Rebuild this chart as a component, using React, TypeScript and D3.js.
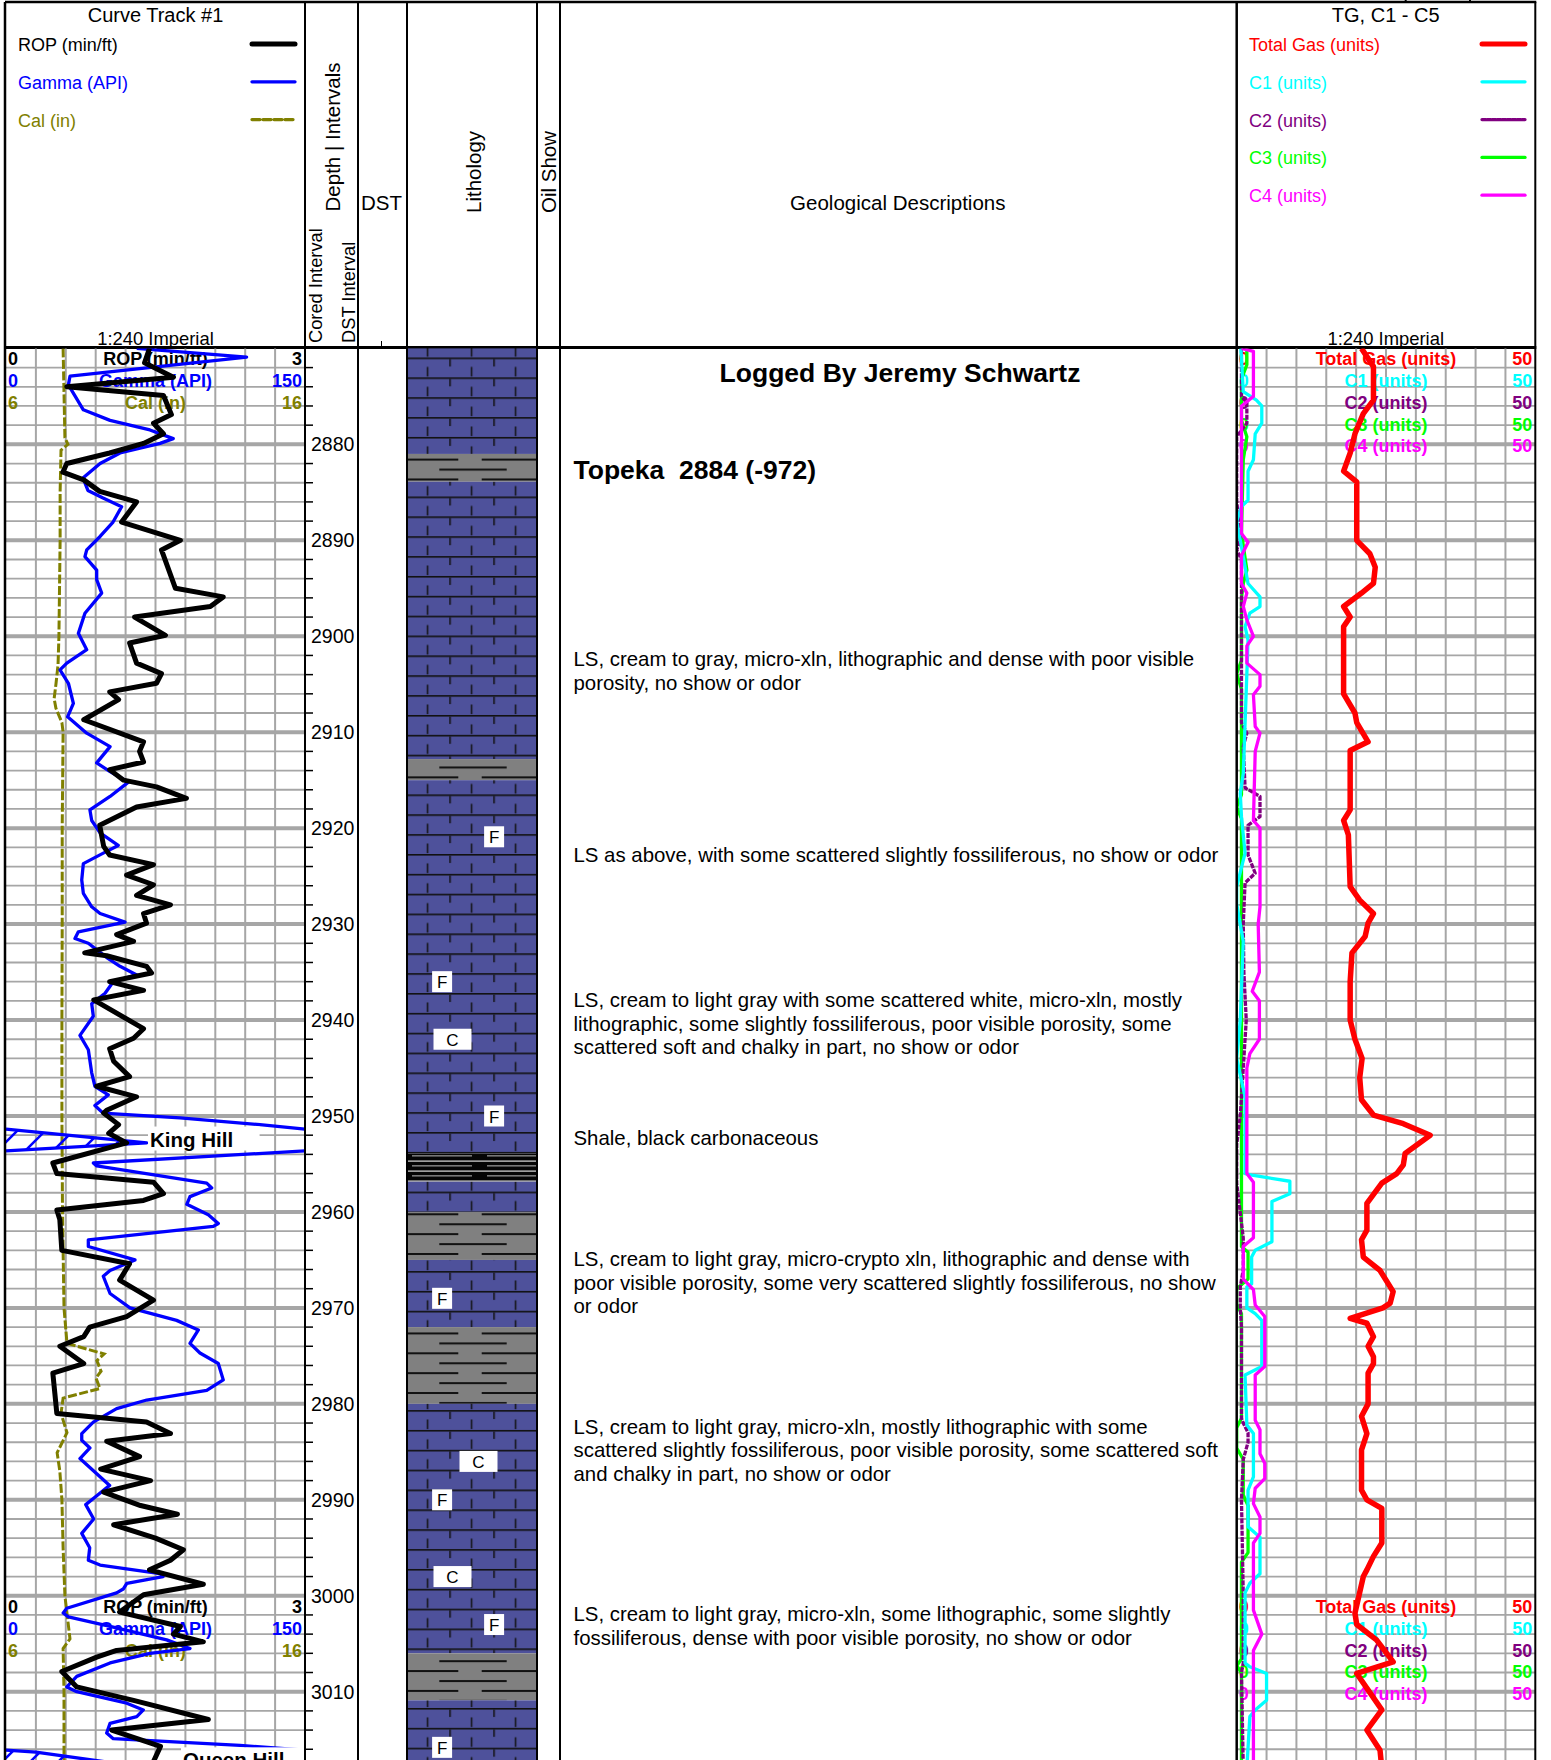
import React from "react";
import * as d3 from "d3";

const FONT = "'Liberation Sans', Arial, Helvetica, sans-serif";

// ---------------- DATA ----------------
const DEPTH_DOMAIN = [2870, 3018];
const DEPTH_LABELS = [2880, 2890, 2900, 2910, 2920, 2930, 2940, 2950, 2960, 2970, 2980, 2990, 3000, 3010];

// [depth ft, ROP min/ft]
const ROP = [
  [2870.0, 1.44], [2871.5, 1.39], [2873.0, 1.68], [2874.0, 0.61], [2874.9, 1.58], [2876.9, 1.66], [2877.8, 1.48],
  [2878.9, 1.58], [2879.9, 1.38], [2880.9, 1.04], [2882.0, 0.61], [2882.9, 0.57], [2883.7, 0.78], [2884.9, 0.94],
  [2886.0, 1.31], [2888.1, 1.16], [2890.0, 1.75], [2891.0, 1.56], [2895.0, 1.70], [2895.9, 2.18], [2896.9, 2.05],
  [2898.0, 1.29], [2899.9, 1.60], [2900.7, 1.24], [2902.8, 1.31], [2903.9, 1.56], [2904.9, 1.51], [2905.8, 1.04],
  [2906.6, 1.13], [2908.7, 0.78], [2911.0, 1.38], [2912.0, 1.34], [2913.1, 1.38], [2913.9, 1.04], [2915.0, 1.18],
  [2915.7, 1.51], [2916.9, 1.81], [2917.8, 1.31], [2919.7, 0.94], [2921.9, 0.98], [2922.8, 1.04], [2923.8, 1.48],
  [2924.9, 1.21], [2925.9, 1.48], [2927.0, 1.31], [2928.0, 1.65], [2928.9, 1.38], [2929.9, 1.41], [2931.1, 1.11],
  [2931.8, 1.28], [2933.0, 0.79], [2933.3, 1.01], [2934.4, 1.41], [2935.1, 1.46], [2936.0, 1.04], [2936.9, 1.38],
  [2937.9, 0.88], [2940.9, 1.38], [2941.9, 1.28], [2943.0, 1.04], [2944.3, 1.08], [2945.9, 1.24], [2946.9, 0.91],
  [2948.0, 1.31], [2949.4, 1.01], [2949.7, 0.98], [2950.9, 1.13], [2951.8, 1.03], [2952.8, 1.21], [2954.9, 0.47],
  [2956.0, 0.51], [2956.9, 1.48], [2958.1, 1.58], [2958.8, 1.38], [2959.8, 0.51], [2960.8, 0.54], [2964.0, 0.56],
  [2965.4, 1.24], [2967.1, 1.14], [2969.2, 1.48], [2970.9, 1.21], [2972.0, 0.84], [2973.0, 0.78], [2974.0, 0.54],
  [2975.8, 0.78], [2976.8, 0.47], [2978.9, 0.49], [2981.0, 0.51], [2981.9, 1.41], [2983.1, 1.65], [2983.9, 1.01],
  [2985.5, 1.34], [2986.8, 0.95], [2988.0, 1.45], [2989.2, 0.98], [2990.6, 1.35], [2991.5, 1.72], [2992.6, 1.08],
  [2994.0, 1.50], [2995.2, 1.78], [2996.3, 1.65], [2997.3, 1.44], [2998.8, 1.98], [2999.9, 1.38], [3001.7, 1.14],
  [3003.2, 1.75], [3004.0, 1.68], [3004.8, 1.98], [3005.7, 1.11], [3006.4, 0.91], [3007.9, 0.56], [3009.5, 0.71],
  [3010.9, 1.28], [3012.9, 2.03], [3014.0, 1.06], [3015.7, 1.55], [3017.5, 1.47],
];

// [depth ft, Gamma API]
const GAMMA = [
  [2870.0, 65.6], [2870.9, 120.7], [2872.9, 32.1], [2873.8, 31.3], [2876.4, 38.8], [2877.5, 52.2], [2878.5, 72.2],
  [2879.4, 83.9], [2879.9, 77.3], [2880.9, 57.2], [2882.0, 47.2], [2883.5, 38.6], [2884.8, 41.1], [2885.6, 48.7],
  [2886.5, 58.0], [2888.1, 53.7], [2889.6, 47.2], [2891.0, 40.5], [2891.7, 39.6], [2893.1, 45.5], [2894.1, 45.5],
  [2895.5, 48.0], [2897.6, 39.6], [2899.7, 36.3], [2901.4, 40.5], [2902.8, 30.5], [2903.5, 27.1], [2904.9, 31.3],
  [2907.0, 33.8], [2908.4, 30.9], [2910.1, 40.5], [2911.5, 52.2], [2913.2, 45.5], [2914.1, 52.2], [2915.2, 61.4],
  [2916.7, 52.2], [2918.1, 42.1], [2919.2, 43.0], [2920.5, 47.2], [2921.8, 56.3], [2922.6, 48.8], [2923.7, 38.8],
  [2925.4, 38.0], [2926.8, 38.8], [2928.2, 43.0], [2928.9, 47.2], [2929.8, 59.7], [2930.8, 36.3], [2931.5, 34.6],
  [2932.0, 41.3], [2933.6, 51.3], [2934.4, 57.2], [2935.3, 65.6], [2936.0, 53.8], [2937.2, 49.7], [2938.3, 43.0],
  [2939.6, 43.8], [2941.6, 37.1], [2943.1, 41.3], [2945.5, 43.0], [2946.9, 44.6], [2947.8, 51.3], [2948.9, 44.6],
  [2949.7, 48.7], [2950.2, 87.3], [2950.9, 127.4], [2952.8, 220.6], [2954.9, 43.8], [2955.2, 45.5], [2957.0, 100.7],
  [2957.5, 103.2], [2958.4, 92.3], [2959.2, 90.7], [2960.3, 101.5], [2961.2, 106.5], [2961.5, 104.0], [2962.9, 41.3],
  [2963.6, 41.3], [2965.0, 64.7], [2966.1, 52.2], [2966.7, 48.8], [2968.5, 52.2], [2970.0, 62.2], [2971.3, 85.6],
  [2972.3, 96.5], [2973.7, 92.3], [2974.7, 97.3], [2975.8, 106.5], [2977.5, 109.0], [2978.6, 100.7], [2979.6, 70.6],
  [2980.5, 55.5], [2981.9, 43.8], [2983.1, 38.0], [2983.8, 38.0], [2984.6, 42.1], [2985.7, 37.1], [2987.0, 44.0],
  [2988.5, 52.0], [2989.5, 46.0], [2990.5, 40.0], [2992.0, 44.0], [2993.5, 38.0], [2995.0, 42.0], [2996.3, 41.3],
  [2996.8, 47.2], [2997.7, 77.3], [2998.0, 78.8], [2998.7, 60.6], [2999.3, 58.8], [2999.7, 55.5], [3001.3, 30.5],
  [3001.8, 28.7], [3002.2, 31.3], [3003.2, 52.2], [3004.6, 80.6], [3005.5, 92.3], [3006.0, 72.2], [3007.0, 52.2],
  [3008.4, 35.5], [3009.5, 30.5], [3010.0, 35.5], [3011.2, 60.6], [3011.9, 68.9], [3012.6, 65.6], [3013.3, 52.2],
  [3014.3, 50.5], [3014.9, 53.8], [3015.6, 117.4], [3016.3, 165.0], [3017.6, 210.0],
];

// [depth ft, caliper in]
const CAL = [
  [2870, 7.91], [2879.3, 7.97], [2880, 8.07], [2880.6, 7.84], [2885, 7.81], [2890, 7.81], [2895, 7.79], [2900, 7.77],
  [2903, 7.74], [2905, 7.67], [2906.5, 7.61], [2907.5, 7.67], [2909, 7.87], [2910, 7.91], [2920, 7.88], [2930, 7.88],
  [2940, 7.87], [2950, 7.87], [2960, 7.89], [2970, 7.94], [2973.7, 8.04], [2974.8, 9.28], [2975.5, 9.04],
  [2976.6, 9.18], [2977.3, 9.01], [2978.4, 9.14], [2979.4, 7.91], [2981, 7.84], [2983, 8.04], [2985.1, 7.71],
  [2987, 7.80], [2990, 7.87], [2995, 7.91], [3000, 7.97], [3004.5, 8.14], [3005.5, 7.91], [3010, 7.94], [3018, 7.94],
];

// gas curves [depth ft, units]
const TOTAL_GAS = [
  [2870, 20.9], [2871.9, 22.9], [2875.4, 22.9], [2876.8, 21.2], [2878.9, 19.8], [2880.9, 19.0], [2882.8, 17.9],
  [2883.9, 20.1], [2890, 20.1], [2891.4, 22.3], [2892.8, 23.2], [2894.5, 22.9], [2895.5, 20.9], [2896.9, 17.9],
  [2898, 19.0], [2899, 17.9], [2906, 17.9], [2908, 19.8], [2909, 20.1], [2911, 22.0], [2911.9, 19.0], [2918.1, 19.0],
  [2919.2, 17.9], [2920.7, 18.7], [2926.1, 19.0], [2927.5, 20.6], [2928.9, 22.9], [2929.9, 22.0], [2931.3, 21.5],
  [2933, 19.3], [2936, 19.0], [2940, 19.0], [2942, 19.8], [2944, 21.0], [2946, 20.6], [2948.3, 20.9], [2949.9, 22.9],
  [2950.8, 27.9], [2952, 32.4], [2953.9, 28.2], [2955.1, 27.9], [2956, 26.8], [2957, 24.3], [2959.1, 21.8],
  [2961.9, 21.8], [2962.9, 20.9], [2964.7, 21.2], [2966.1, 24.0], [2968.3, 26.2], [2969.5, 25.7], [2970, 24.5],
  [2971.1, 19.0], [2971.6, 21.8], [2973, 22.9], [2974, 22.0], [2975.1, 22.9], [2975.8, 22.9], [2976.8, 22.0],
  [2980, 22.0], [2981.3, 20.9], [2983.1, 21.8], [2984.8, 20.9], [2989, 20.9], [2990, 21.8], [2990.9, 24.3],
  [2994.5, 24.3], [2995.9, 22.9], [2997.3, 21.8], [2998, 21.2], [3001.8, 19.8], [3003, 20.1], [3004.6, 23.4],
  [3006.9, 26.2], [3008.1, 20.1], [3011.9, 24.3], [3014, 21.8], [3016.1, 24.0], [3018, 24.3],
];
const C1 = [
  [2870, 0.7], [2874.5, 1.1], [2875.4, 3.3], [2876, 4.2], [2877.8, 4.2], [2878.9, 3.1], [2881.6, 2.8], [2882.8, 1.9],
  [2885.8, 1.9], [2886.5, 0.8], [2888, 0.0], [2890, 0.6], [2894.5, 1.9], [2895.9, 3.9], [2896.9, 3.9], [2897.6, 2.2],
  [2899, 1.4], [2900.4, 1.9], [2914.3, 1.1], [2916.4, 0.6], [2918.8, 0.8], [2922.6, 1.4], [2926.1, 0.0],
  [2927.9, 0.0], [2931.8, 1.1], [2940, 0.6], [2944, 0.0], [2948, 1.4], [2956, 1.4], [2956.2, 2.8], [2956.8, 8.9],
  [2958.1, 8.9], [2958.9, 5.9], [2963.1, 5.9], [2964, 3.1], [2964.7, 2.5], [2967.5, 2.5], [2967.8, 1.7], [2970, 1.7],
  [2970.6, 3.1], [2971.3, 4.2], [2976.1, 4.2], [2977, 1.4], [2982.2, 1.7], [2983.1, 2.8], [2987.6, 2.8],
  [2989, 1.9], [2992.8, 1.9], [2993.9, 3.9], [2997.7, 3.9], [2998.7, 2.2], [2999.7, 1.4], [3007, 1.4], [3007.4, 2.2],
  [3008.1, 5.0], [3010.9, 5.0], [3011.9, 3.1], [3012.6, 2.2], [3018, 1.7],
];
const C2 = [
  [2870, 0.8], [2875, 0.8], [2875.7, 1.7], [2877.8, 1.7], [2879.2, 0.0], [2885.8, 0.0], [2890, 0.6], [2891, 0.0],
  [2892, 0.8], [2909, 0.8], [2910.1, 1.7], [2911.5, 1.1], [2915.8, 1.4], [2916.7, 3.9], [2918.8, 3.9], [2919.7, 1.9],
  [2922.8, 1.9], [2924.7, 3.1], [2925.7, 1.4], [2930, 1.1], [2935, 1.2], [2940, 1.6], [2944, 1.2], [2950, 0.6],
  [2953, 0.0], [2957, 0.0], [2962.7, 1.1], [2966, 1.1], [2967.8, 0.6], [2970, 0.6], [2972, 0.8], [2981.5, 0.8],
  [2982, 1.1], [2983, 1.9], [2984, 1.9], [2985.8, 1.1], [2990, 0.8], [3000, 1.1], [3007, 1.1], [3008, 0.8],
  [3018, 1.1],
];
const C3 = [
  [2870, 1.7], [2871.7, 1.7], [2873.2, 0.8], [2877.5, 0.8], [2879.2, 1.7], [2881.6, 1.1], [2889.3, 0.8],
  [2893.1, 1.7], [2894.5, 1.1], [2896, 0.8], [2902.5, 0.8], [2903.9, 0.0], [2905.5, 0.8], [2916.5, 0.8],
  [2917.8, 0.0], [2919, 0.8], [2963.6, 0.8], [2964.2, 1.9], [2967, 1.9], [2968, 0.0], [2969.6, 0.0], [2970.6, 0.8],
  [2981.5, 0.8], [2982.5, 0.0], [2984.6, 0.0], [2985.8, 1.1], [2989.5, 1.1], [2990.6, 1.9], [2995.5, 1.9],
  [2996.5, 0.8], [3006.6, 0.8], [3007.3, 0.0], [3008, 0.8], [3018, 0.8],
];
const C4 = [
  [2870, 0.8], [2870.3, 2.8], [2875, 2.8], [2876, 0.8], [2889.3, 0.8], [2890.2, 1.9], [2891.6, 0.8], [2894.5, 0.8],
  [2895.5, 1.7], [2896.9, 1.1], [2898.3, 1.7], [2900, 2.8], [2901, 1.7], [2902.8, 1.7], [2904, 3.9], [2905.2, 3.9],
  [2906.1, 2.8], [2909.4, 3.1], [2910.1, 3.9], [2912, 3.1], [2919.2, 2.8], [2920, 3.9], [2928.2, 3.9], [2930, 3.6],
  [2935, 3.8], [2937, 2.6], [2938, 3.8], [2942, 3.8], [2943.5, 2.2], [2945, 1.7], [2956, 1.7], [2956.9, 2.8],
  [2962.7, 2.8], [2963.6, 1.1], [2967, 1.1], [2968.1, 2.8], [2969.7, 3.1], [2970.9, 4.7], [2976.1, 4.7], [2977, 3.1],
  [2981.7, 3.1], [2982.7, 3.9], [2985.2, 3.9], [2986.2, 4.7], [2987.8, 4.7], [2988.8, 3.1], [2990.4, 2.8],
  [2991.8, 3.9], [2993.5, 3.9], [2994.5, 2.8], [3001.5, 2.8], [3004, 4.2], [3005.7, 2.8], [3018, 2.8],
];

// lithology intervals
const LITHOLOGY = [
  { top: 2870.0, base: 2881.0, rock: "limestone" },
  { top: 2881.0, base: 2883.9, rock: "shale" },
  { top: 2883.9, base: 2912.8, rock: "limestone" },
  { top: 2912.8, base: 2915.0, rock: "shale" },
  { top: 2915.0, base: 2953.9, rock: "limestone" },
  { top: 2953.9, base: 2956.85, rock: "blackshale" },
  { top: 2956.85, base: 2960.0, rock: "limestone" },
  { top: 2960.0, base: 2965.0, rock: "shale" },
  { top: 2965.0, base: 2972.0, rock: "limestone" },
  { top: 2972.0, base: 2980.0, rock: "shale" },
  { top: 2980.0, base: 3006.0, rock: "limestone" },
  { top: 3006.0, base: 3010.9, rock: "shale" },
  { top: 3010.9, base: 3018.0, rock: "limestone" },
];

// accessory symbols (F = fossils, C = chalk); lane = horizontal position across lithology column
const ACCESSORIES = [
  { depth: 2920.9, sym: "F", lane: 0.67 },
  { depth: 2936.0, sym: "F", lane: 0.27 },
  { depth: 2942.0, sym: "C", lane: 0.35 },
  { depth: 2950.0, sym: "F", lane: 0.67 },
  { depth: 2969.0, sym: "F", lane: 0.27 },
  { depth: 2986.0, sym: "C", lane: 0.55 },
  { depth: 2990.0, sym: "F", lane: 0.27 },
  { depth: 2998.0, sym: "C", lane: 0.35 },
  { depth: 3003.0, sym: "F", lane: 0.67 },
  { depth: 3015.8, sym: "F", lane: 0.27 },
];

const FORMATION_TOPS = [
  { name: "King Hill", depth: 2952.4 },
  { name: "Queen Hill", depth: 3017.1 },
];

const DESCRIPTIONS = [
  { depth: 2902.4, lines: ["LS, cream to gray, micro-xln, lithographic and dense with poor visible", "porosity, no show or odor"] },
  { depth: 2922.8, lines: ["LS as above, with some scattered slightly fossiliferous, no show or odor"] },
  { depth: 2937.9, lines: ["LS, cream to light gray with some scattered white, micro-xln, mostly", "lithographic, some slightly fossiliferous, poor visible porosity, some", "scattered soft and chalky in part, no show or odor"] },
  { depth: 2952.3, lines: ["Shale, black carbonaceous"] },
  { depth: 2964.9, lines: ["LS, cream to light gray, micro-crypto xln, lithographic and dense with", "poor visible porosity, some very scattered slightly fossiliferous, no show", "or odor"] },
  { depth: 2982.4, lines: ["LS, cream to light gray, micro-xln, mostly lithographic with some", "scattered slightly fossiliferous, poor visible porosity, some scattered soft", "and chalky in part, no show or odor"] },
  { depth: 3001.9, lines: ["LS, cream to light gray, micro-xln, some lithographic, some slightly", "fossiliferous, dense with poor visible porosity, no show or odor"] },
];
const HEADINGS = [
  { depth: 2872.6, text: "Logged By Jeremy Schwartz", centered: true },
  { depth: 2882.7, text: "Topeka  2884 (-972)", centered: false },
];

const CURVE_SCALES = [
  { name: "ROP (min/ft)", min: "0", max: "3", color: "#000000" },
  { name: "Gamma (API)", min: "0", max: "150", color: "#0000ff" },
  { name: "Cal (in)", min: "6", max: "16", color: "#808000" },
];
const GAS_SCALES = [
  { name: "Total Gas (units)", min: "0", max: "50", color: "#ff0000" },
  { name: "C1 (units)", min: "0", max: "50", color: "#00ffff" },
  { name: "C2 (units)", min: "0", max: "50", color: "#800080" },
  { name: "C3 (units)", min: "0", max: "50", color: "#00ff00" },
  { name: "C4 (units)", min: "0", max: "50", color: "#ff00ff" },
];
const SCALE_LABEL_DEPTHS = [2871.15, 3001.2];

// ---------------- LAYOUT ----------------
const W = 1551;
const H = 1760;
const TOP = 348.4;
const PX_FT = 9.595;
const X = { left: 5, curveL: 6, curveR: 305, depthR: 358, dstR: 407, lithR: 537, oilR: 560, gasL: 1236.7, gasR: 1535.3 };
const TOP_LABEL_X = { "King Hill": 150, "Queen Hill": 183 };
const GRID = "#a6a6a6";

type P = number[];

function splitWrap(pts: P[], max: number) {
  const normal: P[][] = [];
  const wrapped: P[][] = [];
  let cur: P[] = [];
  let mode = pts[0][1] > max ? "w" : "n";
  pts.forEach((p, i) => {
    const m = p[1] > max ? "w" : "n";
    if (i > 0 && m !== mode) {
      const q = pts[i - 1];
      const t = (max - q[1]) / (p[1] - q[1]);
      const dc = q[0] + t * (p[0] - q[0]);
      cur.push([dc, max]);
      (mode === "n" ? normal : wrapped).push(cur);
      cur = [[dc, max]];
      mode = m;
    }
    cur.push(p);
  });
  (mode === "n" ? normal : wrapped).push(cur);
  return { normal, wrapped: wrapped.map((seg) => seg.map((p) => [p[0], p[1] - max])) };
}

function TrackGrid({ xL, xR, yS }: any) {
  const depths = d3.range(DEPTH_DOMAIN[0] + 2, DEPTH_DOMAIN[1] + 0.1, 2);
  const xs = d3.range(1, 10).map((i) => xL + ((xR - xL) * i) / 10);
  return (
    <g>
      {xs.map((x) => (
        <line key={"v" + x} x1={x} x2={x} y1={TOP} y2={H} stroke={GRID} strokeWidth={2} />
      ))}
      {depths.map((d) => (
        <line key={"h" + d} x1={xL} x2={xR} y1={yS(d)} y2={yS(d)} stroke={GRID} strokeWidth={d % 10 === 0 ? 4 : 1.8} />
      ))}
    </g>
  );
}

function ScaleLabels({ scales, xL, xR, y0 }: any) {
  return (
    <g fontWeight="bold" fontSize={18} dominantBaseline="central">
      {scales.map((s: any, i: number) => {
        const y = y0 + i * 21.7;
        return (
          <g key={s.name} fill={s.color}>
            <text x={xL + 2} y={y}>{s.min}</text>
            <text x={(xL + xR) / 2} y={y} textAnchor="middle">{s.name}</text>
            <text x={xR - 3} y={y} textAnchor="end">{s.max}</text>
          </g>
        );
      })}
    </g>
  );
}

export default function App() {
  const yS = d3.scaleLinear().domain(DEPTH_DOMAIN).range([TOP, TOP + (DEPTH_DOMAIN[1] - DEPTH_DOMAIN[0]) * PX_FT]);
  const xRop = d3.scaleLinear().domain([0, 3]).range([X.curveL, X.curveR]);
  const xGr = d3.scaleLinear().domain([0, 150]).range([X.curveL, X.curveR]);
  const xCal = d3.scaleLinear().domain([6, 16]).range([X.curveL, X.curveR]);
  const xGas = d3.scaleLinear().domain([0, 50]).range([X.gasL, X.gasR]);

  const lineFor = (xs: any) => d3.line<P>().x((p) => xs(p[1])).y((p) => yS(p[0]));
  const gr = splitWrap(GAMMA, 150);

  const litho = { limestone: "url(#ls)", shale: "url(#sh)", blackshale: "url(#bsh)" } as any;

  const header = (
    <g>
      <line x1={X.left} x2={X.gasR + 1} y1={2} y2={2} stroke="#000" strokeWidth={2.5} />
      <line x1={1405.7} x2={1405.7} y1={0} y2={3} stroke="#000" strokeWidth={2} />
      <line x1={1470} x2={1470} y1={0} y2={3} stroke="#000" strokeWidth={2} />
      <line x1={X.left} x2={X.gasR + 1} y1={347.5} y2={347.5} stroke="#000" strokeWidth={3} />
      <text x={155.5} y={15} textAnchor="middle" dominantBaseline="central" fontSize={20}>Curve Track #1</text>
      {CURVE_SCALES.map((s, i) => (
        <g key={s.name}>
          <text x={18} y={45 + i * 37.8} dominantBaseline="central" fontSize={18} fill={s.color}>{s.name}</text>
          <line x1={252} x2={295} y1={44 + i * 37.8} y2={44 + i * 37.8} stroke={s.color} strokeLinecap="round"
            strokeWidth={i === 0 ? 5 : 3.3} strokeDasharray={i === 2 ? "8 3" : undefined} />
        </g>
      ))}
      <text x={155.5} y={345} textAnchor="middle" fontSize={18.4}>1:240 Imperial</text>
      <text transform="translate(332,137) rotate(-90)" textAnchor="middle" dominantBaseline="central" fontSize={20.5}>Depth | Intervals</text>
      <text transform="translate(315.5,343) rotate(-90)" dominantBaseline="central" fontSize={18.3}>Cored Interval</text>
      <text transform="translate(348.5,343) rotate(-90)" dominantBaseline="central" fontSize={18.3}>DST Interval</text>
      <text x={361} y={202} dominantBaseline="central" fontSize={20.5}>DST</text>
      <line x1={381.5} x2={381.5} y1={341} y2={346} stroke="#000" strokeWidth={1} />
      <text transform="translate(473,213) rotate(-90)" dominantBaseline="central" fontSize={20.5}>Lithology</text>
      <text transform="translate(548.7,213) rotate(-90)" dominantBaseline="central" fontSize={20.5}>Oil Show</text>
      <text x={897.8} y={202} textAnchor="middle" dominantBaseline="central" fontSize={20.5}>Geological Descriptions</text>
      <text x={1385.7} y={15} textAnchor="middle" dominantBaseline="central" fontSize={20}>TG, C1 - C5</text>
      {GAS_SCALES.map((s, i) => (
        <g key={s.name}>
          <text x={1249} y={45 + i * 37.8} dominantBaseline="central" fontSize={18} fill={s.color}>{s.name}</text>
          <line x1={1482} x2={1525} y1={44 + i * 37.8} y2={44 + i * 37.8} stroke={s.color} strokeLinecap="round"
            strokeWidth={i === 0 ? 5 : 3.3} strokeDasharray={i === 2 ? "4 1" : undefined} />
        </g>
      ))}
      <text x={1385.7} y={345} textAnchor="middle" fontSize={18.4}>1:240 Imperial</text>
    </g>
  );

  return (
    <div style={{ position: "absolute", left: 0, top: 0 }}>
      <svg width={W} height={H} style={{ display: "block", fontFamily: FONT, background: "#fff" }}>
        <defs>
          <clipPath id="clipCurve"><rect x={X.curveL} y={TOP} width={X.curveR - X.curveL} height={H - TOP} /></clipPath>
          <clipPath id="clipGas"><rect x={X.gasL} y={TOP} width={X.gasR - X.gasL} height={H - TOP} /></clipPath>
          <pattern id="ls" patternUnits="userSpaceOnUse" x={405.3} y={357.5} width={44} height={19.86}>
            <rect width={44} height={19.86} fill="#4e519b" />
            <rect x={0} y={0} width={44} height={1.6} fill="#111" />
            <rect x={0} y={1.6} width={1.5} height={7.4} fill="#111" />
            <rect x={21.6} y={9.4} width={1.5} height={9.6} fill="#111" />
          </pattern>
          <pattern id="sh" patternUnits="userSpaceOnUse" x={X.dstR} y={359.3} width={X.lithR - X.dstR} height={19.86}>
            <rect width={130} height={19.86} fill="#808080" />
            <rect x={0} y={0} width={51.3} height={2} fill="#111" />
            <rect x={74.7} y={0} width={56} height={2} fill="#111" />
            <rect x={32.3} y={10} width={67.4} height={2} fill="#111" />
          </pattern>
          <pattern id="bsh" patternUnits="userSpaceOnUse" x={X.dstR} y={1155} width={X.lithR - X.dstR} height={10}>
            <rect width={130} height={10} fill="#050505" />
            <rect x={5} y={0} width={60} height={1.6} fill="#777" />
            <rect x={80} y={0} width={50} height={1.6} fill="#777" />
            <rect x={0} y={5.5} width={130} height={1.2} fill="#ddd" />
          </pattern>
          <pattern id="hatch" patternUnits="userSpaceOnUse" width={28} height={28}>
            <path d="M-7,7 L7,-7 M0,28 L28,0 M21,35 L35,21" stroke="#0000ff" strokeWidth={2.5} />
          </pattern>
        </defs>

        {header}

        <TrackGrid xL={X.curveL} xR={X.curveR} yS={yS} />
        <TrackGrid xL={X.gasL} xR={X.gasR} yS={yS} />

        {SCALE_LABEL_DEPTHS.map((d) => (
          <g key={d}>
            <ScaleLabels scales={CURVE_SCALES} xL={X.curveL} xR={X.curveR} y0={yS(d)} />
            <ScaleLabels scales={GAS_SCALES} xL={X.gasL} xR={X.gasR} y0={yS(d)} />
          </g>
        ))}

        <g clipPath="url(#clipCurve)" fill="none">
          <path d={lineFor(xCal)(CAL as P[]) || ""} stroke="#808000" strokeWidth={3} strokeDasharray="9 2.5" />
          {gr.wrapped.map((seg, i) => (
            <path key={"wa" + i}
              d={"M" + X.curveL + "," + yS(seg[0][0]) + (lineFor(xGr)(seg) || "").replace(/^M/, "L") + "L" + X.curveL + "," + yS(seg[seg.length - 1][0]) + "Z"}
              fill="url(#hatch)" stroke="none" />
          ))}
          {gr.normal.map((seg, i) => (
            <path key={"gn" + i} d={lineFor(xGr)(seg) || ""} stroke="#0000ff" strokeWidth={3.3} strokeLinejoin="round" />
          ))}
          {gr.wrapped.map((seg, i) => (
            <path key={"gw" + i} d={lineFor(xGr)(seg) || ""} stroke="#0000ff" strokeWidth={3.3} strokeLinejoin="round" />
          ))}
          <path d={lineFor(xRop)(ROP as P[]) || ""} stroke="#000" strokeWidth={5} strokeLinejoin="round" />
        </g>

        {FORMATION_TOPS.map((t) => {
          const lx = (TOP_LABEL_X as any)[t.name];
          const y = yS(t.depth);
          return (
            <g key={t.name}>
              <rect x={lx - 2} y={y - 12.5} width={t.name.length * 12.4} height={24} fill="#fff" />
              <text x={lx} y={y} dominantBaseline="central" fontWeight="bold" fontSize={20.5}>{t.name}</text>
            </g>
          );
        })}

        <g clipPath="url(#clipGas)" fill="none" strokeLinejoin="round">
          <path d={lineFor(xGas)(C3 as P[]) || ""} stroke="#00ff00" strokeWidth={3.3} />
          <path d={lineFor(xGas)(C2 as P[]) || ""} stroke="#800080" strokeWidth={3.3} strokeDasharray="5 1.2" />
          <path d={lineFor(xGas)(C1 as P[]) || ""} stroke="#00ffff" strokeWidth={3.3} />
          <path d={lineFor(xGas)(C4 as P[]) || ""} stroke="#ff00ff" strokeWidth={3.3} />
          <path d={lineFor(xGas)(TOTAL_GAS as P[]) || ""} stroke="#ff0000" strokeWidth={5.5} />
        </g>

        {d3.range(DEPTH_DOMAIN[0] + 2, DEPTH_DOMAIN[1], 2).filter((d) => d % 10 !== 0).map((d) => (
          <line key={"t" + d} x1={X.curveR} x2={313} y1={yS(d)} y2={yS(d)} stroke="#000" strokeWidth={1.5} />
        ))}
        {DEPTH_LABELS.map((d) => (
          <text key={d} x={311} y={yS(d)} dominantBaseline="central" fontSize={19.5}>{d}</text>
        ))}

        {LITHOLOGY.map((l, i) => (
          <rect key={i} x={X.dstR} y={yS(l.top)} width={X.lithR - X.dstR} height={yS(l.base) - yS(l.top)} fill={litho[l.rock]} />
        ))}
        {ACCESSORIES.map((a, i) => {
          const cx = X.dstR + a.lane * (X.lithR - X.dstR);
          const cy = yS(a.depth);
          const w = a.sym === "C" ? 38 : 20;
          return (
            <g key={i}>
              <rect x={cx - w / 2} y={cy - 10.5} width={w} height={21} fill="#fff" />
              <text x={cx} y={cy + 1} textAnchor="middle" dominantBaseline="central" fontSize={17}>{a.sym}</text>
            </g>
          );
        })}

        {HEADINGS.map((h) => (
          <text key={h.text} x={h.centered ? 900 : 573.5} y={yS(h.depth)} textAnchor={h.centered ? "middle" : "start"}
            dominantBaseline="central" fontWeight="bold" fontSize={26.5} style={{ whiteSpace: "pre" }}>{h.text}</text>
        ))}
        {DESCRIPTIONS.map((d) => (
          <g key={d.depth}>
            {d.lines.map((ln, i) => (
              <text key={i} x={573.5} y={yS(d.depth) + i * 23.6} dominantBaseline="central" fontSize={20.4}>{ln}</text>
            ))}
          </g>
        ))}

        {[X.left, X.curveR, X.depthR, X.dstR, X.lithR, X.oilR, X.gasL, X.gasR].map((x) => (
          <line key={"b" + x} x1={x} x2={x} y1={2} y2={H} stroke="#000" strokeWidth={x === X.left || x === X.gasL ? 2.5 : 2} />
        ))}
      </svg>
    </div>
  );
}
